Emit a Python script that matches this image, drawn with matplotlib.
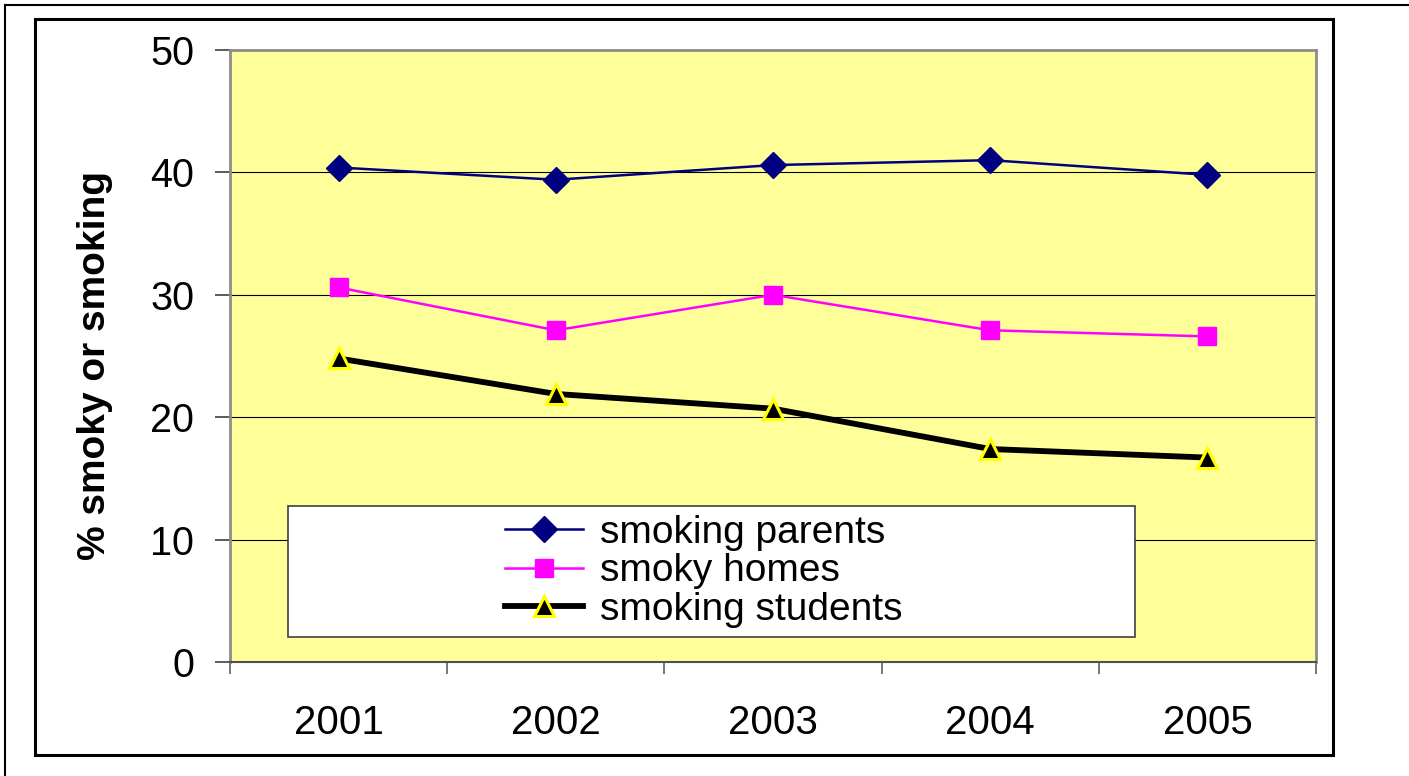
import matplotlib.pyplot as plt
from matplotlib.patches import Rectangle
from matplotlib.lines import Line2D

plt.rcParams["font.family"] = ["Liberation Sans", "DejaVu Sans"]

years = ["2001", "2002", "2003", "2004", "2005"]
smoking_parents = [40.4, 39.4, 40.6, 41.0, 39.8]
smoky_homes = [30.6, 27.1, 30.0, 27.1, 26.6]
smoking_students = [24.8, 21.9, 20.7, 17.4, 16.7]
y_ticks = [0, 10, 20, 30, 40, 50]

W, H = 1409, 776
fig = plt.figure(figsize=(W / 100, H / 100), dpi=100)
fig.patch.set_facecolor("white")

# axes placed by pixel box of the plot area
ax = fig.add_axes([230 / W, 1 - 662 / H, (1316 - 230) / W, (662 - 50) / H])
ax.set_facecolor("#FFFF99")

x = list(range(len(years)))
ax.plot(x, smoking_parents, color="#000080", linewidth=1.8, marker="D",
        markersize=13, markeredgecolor="#000080", label="smoking parents", zorder=4)
ax.plot(x, smoky_homes, color="#FF00FF", linewidth=1.8, marker="s",
        markersize=13, markeredgecolor="#FF00FF", label="smoky homes", zorder=4)
ax.plot(x, smoking_students, color="black", linewidth=4.2, marker="^",
        markersize=14, markerfacecolor="black", markeredgecolor="#FFFF00",
        markeredgewidth=2.2, label="smoking students", zorder=4)

ax.set_xlim(-0.5, len(years) - 0.5)
ax.set_ylim(0, 50)
ax.set_yticks(y_ticks)
ax.yaxis.grid(True, color="black", linewidth=0.8)
ax.set_axisbelow(True)

ax.set_xticks(x)
ax.set_xticklabels(years)
ax.set_xticks([i - 0.5 for i in range(len(years) + 1)], minor=True)
ax.tick_params(axis="x", which="major", length=0, pad=30, labelsize=29)
ax.tick_params(axis="x", which="minor", length=8.6, width=1.2, color="#606060")
ax.tick_params(axis="y", length=10.8, width=1.2, color="#404040", pad=15, labelsize=28.5)

for side in ["top", "right", "left"]:
    ax.spines[side].set_color("#8C8C8C")
    ax.spines[side].set_linewidth(2)
ax.spines["bottom"].set_color("#505050")
ax.spines["bottom"].set_linewidth(1.5)

# legend box with handles sitting toward the middle
ax.add_patch(Rectangle(((288 - 230) / 1086, (662 - 637) / 612), (1135 - 288) / 1086,
                       (637 - 506) / 612, transform=ax.transAxes, facecolor="white",
                       edgecolor="#404040", linewidth=1.2, zorder=5))
leg = ax.legend(loc="upper left", bbox_to_anchor=((505 - 230) / 1086, (662 - 515) / 612),
                frameon=False, fontsize=28, handlelength=2.0, handletextpad=0.45,
                labelspacing=0.06, borderpad=0, borderaxespad=0)
leg.set_zorder(6)

fig.text(95 / W, 1 - 366 / H, "% smoky or smoking", rotation=90, ha="center",
         va="center", fontsize=28, fontweight="bold")

# chart border and page edge lines
fig.add_artist(Rectangle((35 / W, 1 - 755 / H), (1333 - 35) / W, (755 - 19) / H,
                         transform=fig.transFigure, fill=False, edgecolor="black", linewidth=2.2))
fig.add_artist(Line2D([5 / W, 1408 / W], [1 - 5 / H, 1 - 5 / H], transform=fig.transFigure,
                      color="black", linewidth=1.5))
fig.add_artist(Line2D([5 / W, 5 / W], [1 - 5 / H, 0], transform=fig.transFigure,
                      color="black", linewidth=1.5))

fig.savefig("out.png", dpi=100)
